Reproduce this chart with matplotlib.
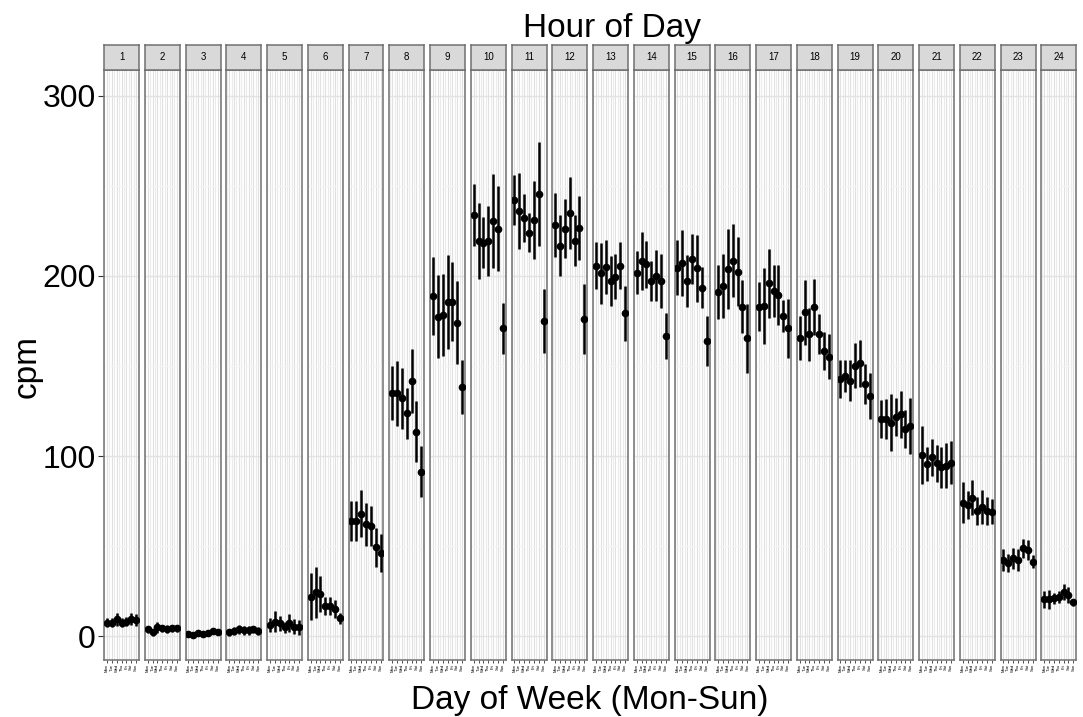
import matplotlib.pyplot as plt
import numpy as np

plt.rcParams['font.family'] = ['Liberation Sans', 'DejaVu Sans']

days = ['Mon', 'Tue', 'Wed', 'Thu', 'Fri', 'Sat', 'Sun']
hours = [str(h) for h in range(1, 25)]

# mean cpm for each hour (rows) and day of week (columns)
cpm = [
    [7.4, 7.4, 9.3, 7.4, 7.9, 9.4, 8.9],
    [3.7, 2.1, 4.8, 4.3, 3.9, 4.3, 4.3],
    [0.9, 0.6, 1.5, 0.9, 1.9, 3.0, 2.1],
    [2.1, 2.8, 3.7, 3.3, 3.3, 3.7, 2.8],
    [6.1, 8.0, 7.0, 4.8, 7.0, 5.2, 4.8],
    [21.8, 24.3, 23.1, 16.8, 16.8, 15.0, 9.8],
    [64, 64, 68, 62, 61, 49.3, 46],
    [134.8, 134.8, 132, 123.7, 141.7, 113.5, 91.3],
    [188.9, 177.4, 178.3, 185.7, 185.7, 174.1, 138.2],
    [233.9, 219.4, 218.5, 219.4, 230.7, 226.3, 170.9],
    [242.2, 236.1, 232, 224.1, 231.1, 245.4, 175],
    [228.3, 216.8, 226.3, 234.8, 219.6, 226.8, 175.9],
    [205.6, 201.5, 205.2, 197.2, 199.6, 205.6, 179.3],
    [201.9, 208.3, 206.5, 197.2, 200.2, 197.2, 166.8],
    [204.6, 207.4, 197.2, 209.4, 204.3, 193.5, 163.9],
    [191.3, 194.4, 203.7, 208.5, 202.4, 182.9, 165.4],
    [182.9, 183.3, 195.9, 191.7, 189.4, 177.8, 170.9],
    [165.7, 179.8, 167.6, 182.9, 167.6, 158.3, 155.2],
    [142.6, 144.6, 141.8, 150.2, 151.5, 140, 133.3],
    [120.6, 120.4, 118.5, 121.8, 123.1, 114.8, 116.8],
    [100.6, 95.4, 99.3, 95.9, 93.7, 94.6, 96.3],
    [74.1, 72.8, 76.9, 69.4, 71.9, 69.4, 69.1],
    [42.2, 40.7, 43.1, 42.2, 48.7, 47.8, 41.3],
    [20.4, 20.4, 20.9, 21.8, 24.6, 22.8, 18.7],
]

# half-width of the error bars
err = [
    [2.5, 2.5, 3.5, 2.5, 2.5, 3.5, 3.5],
    [2, 2, 3, 2, 2, 2, 2],
    [1.5, 1.5, 1.5, 1.5, 1.5, 1.5, 1.5],
    [2, 2, 2.5, 2.5, 2.5, 2, 2],
    [4, 6, 4, 3, 5, 4, 4],
    [13, 14, 10, 5, 5, 5, 3],
    [11, 11, 13, 12, 11, 10.8, 10.6],
    [15, 18, 17, 14, 18, 17, 14],
    [21.8, 23, 23, 26, 22, 23, 15],
    [17.3, 21, 14, 19.6, 26, 23.6, 14],
    [13.7, 21, 13.4, 11, 21.8, 29, 17.6],
    [18, 17, 16.5, 20, 14, 17.7, 19.4],
    [13, 17, 15, 14, 12.5, 13, 15.3],
    [11.9, 16, 13, 11, 14, 15, 12.7],
    [15.3, 18.4, 14.4, 13.7, 18.7, 11.4, 14],
    [15, 17.9, 22.3, 20.2, 19, 14.6, 19.3],
    [13.7, 21.3, 19.2, 14.4, 16.6, 9, 16.2],
    [12.3, 18, 14.8, 15.5, 11, 10.8, 12.7],
    [10.6, 8.8, 11.4, 12.3, 13.1, 11.3, 13],
    [10.6, 11.1, 15.7, 10.6, 13.2, 10.5, 15.5],
    [15.9, 9.4, 10.2, 10.4, 11.4, 12.5, 11.8],
    [11.4, 8, 9.9, 7.7, 9.4, 7.6, 7],
    [5.9, 5.1, 6, 6, 5.4, 5.8, 3.7],
    [4.6, 5.3, 3.2, 3.5, 4.4, 4.2, 2],
]

W, H = 1083, 717
fig = plt.figure(figsize=(W / 100, H / 100), dpi=100)

x = np.arange(1, 8)
left0, step, pw = 104, 40.75, 35
ptop, pbot, stop = 70, 660, 45

for i, h in enumerate(hours):
    l = left0 + i * step
    ax = fig.add_axes([l / W, 1 - pbot / H, pw / W, (pbot - ptop) / H])
    ax.set_xlim(0.4, 7.6)
    ax.set_ylim(-13.3, 314.4)
    for v in np.arange(0.5, 7.6, 0.5):
        ax.axvline(v, color='#ebebeb' if v % 1 else '#e0e0e0', lw=0.8, zorder=0)
    for v in [50, 150, 250]:
        ax.axhline(v, color='#f4f4f4', lw=0.8, zorder=0)
    for v in [0, 100, 200, 300]:
        ax.axhline(v, color='#e3e3e3', lw=1.0, zorder=0)
    ax.errorbar(x, cpm[i], yerr=err[i], fmt='o', color='black', ms=4.5,
                elinewidth=1.8, capsize=0, zorder=3)
    ax.set_xticks(x)
    ax.set_xticklabels(days, rotation=90, fontsize=3)
    ax.tick_params(axis='x', length=2, width=0.6, pad=1, color='#333333')
    ax.set_yticks([0, 100, 200, 300])
    if i == 0:
        ax.tick_params(axis='y', labelsize=23, length=4, width=0.8, pad=2, color='#333333')
    else:
        ax.tick_params(axis='y', left=False, labelleft=False)
    for s in ax.spines.values():
        s.set_color('#707070')
        s.set_linewidth(1.1)

    sax = fig.add_axes([l / W, 1 - ptop / H, pw / W, (ptop - stop) / H])
    sax.set_facecolor('#d9d9d9')
    sax.set_xticks([])
    sax.set_yticks([])
    for s in sax.spines.values():
        s.set_color('#707070')
        s.set_linewidth(1.1)
    sax.text(0.5, 0.5, h, ha='center', va='center', fontsize=7, transform=sax.transAxes)

fig.text(612 / W, 1 - 28 / H, 'Hour of Day', ha='center', va='center', fontsize=24)
fig.text(590 / W, 1 - 700 / H, 'Day of Week (Mon-Sun)', ha='center', va='center', fontsize=24)
fig.text(27 / W, 1 - 366 / H, 'cpm', ha='center', va='center', fontsize=24, rotation=90)

fig.savefig('out.png', dpi=100)
